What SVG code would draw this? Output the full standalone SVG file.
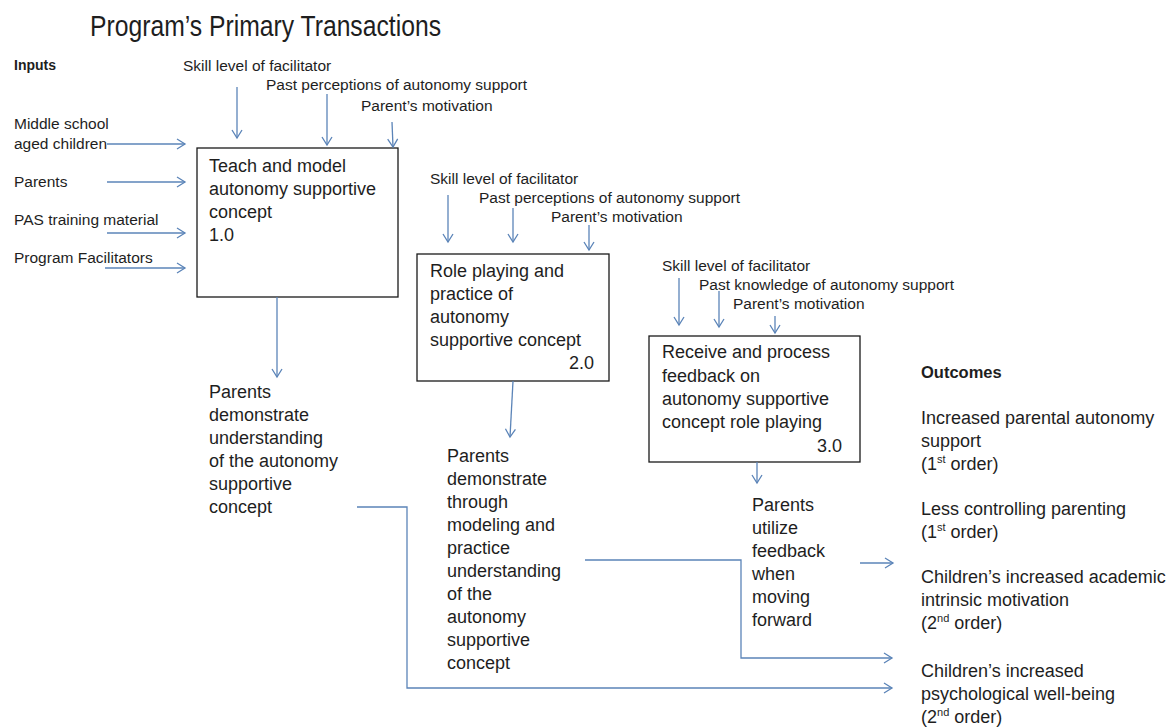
<svg xmlns="http://www.w3.org/2000/svg" width="1171" height="728" viewBox="0 0 1171 728">
<style>
.t{font-family:"Liberation Sans",Arial,sans-serif;fill:#1e1e1e}
.s{font-size:15.5px}
.b{font-size:18px}
.h{font-weight:bold;font-size:14px}
.ho{font-weight:bold;font-size:16.5px}
.box{fill:#fff;stroke:#1a1a1a;stroke-width:1.3}
.c{fill:none;stroke:#5b84b8;stroke-width:1.3}
.a{marker-end:url(#ah)}
</style>
<defs>
<marker id="ah" markerWidth="12" markerHeight="12" refX="9" refY="6" orient="auto" markerUnits="userSpaceOnUse">
<path d="M1,1 L9,6 L1,11" fill="none" stroke="#5b84b8" stroke-width="1.3"/>
</marker>
</defs>
<rect width="1171" height="728" fill="#fff"/>
<text id="title" class="t" x="90" y="36" font-size="30" textLength="351" lengthAdjust="spacingAndGlyphs">Program’s Primary Transactions</text>

<g id="inputs">
<text class="t h" x="14" y="70">Inputs</text>
<text class="t s" x="14" y="129">Middle school</text>
<text class="t s" x="14" y="149">aged children</text>
<text class="t s" x="14" y="187">Parents</text>
<text class="t s" x="14" y="225">PAS training material</text>
<text class="t s" x="14" y="263">Program Facilitators</text>
</g>

<g id="influences1">
<text class="t s" x="183" y="71">Skill level of facilitator</text>
<text class="t s" x="266" y="90">Past perceptions of autonomy support</text>
<text class="t s" x="361" y="111">Parent’s motivation</text>
</g>

<g id="node1">
<rect class="box" x="197" y="148" width="201" height="149"/>
<text class="t b" x="209" y="172">Teach and model</text>
<text class="t b" x="209" y="195">autonomy supportive</text>
<text class="t b" x="209" y="218">concept</text>
<text class="t b" x="209" y="241">1.0</text>
</g>

<g id="output1">
<text class="t b" x="209" y="398">Parents</text>
<text class="t b" x="209" y="421">demonstrate</text>
<text class="t b" x="209" y="444">understanding</text>
<text class="t b" x="209" y="467">of the autonomy</text>
<text class="t b" x="209" y="490">supportive</text>
<text class="t b" x="209" y="513">concept</text>
</g>

<g id="influences2">
<text class="t s" x="430" y="184">Skill level of facilitator</text>
<text class="t s" x="479" y="203">Past perceptions of autonomy support</text>
<text class="t s" x="551" y="222">Parent’s motivation</text>
</g>

<g id="node2">
<rect class="box" x="417" y="254" width="192" height="127"/>
<text class="t b" x="430" y="277">Role playing and</text>
<text class="t b" x="430" y="300">practice of</text>
<text class="t b" x="430" y="323">autonomy</text>
<text class="t b" x="430" y="346">supportive concept</text>
<text class="t b" x="594" y="369" text-anchor="end">2.0</text>
</g>

<g id="output2">
<text class="t b" x="447" y="462">Parents</text>
<text class="t b" x="447" y="485">demonstrate</text>
<text class="t b" x="447" y="508">through</text>
<text class="t b" x="447" y="531">modeling and</text>
<text class="t b" x="447" y="554">practice</text>
<text class="t b" x="447" y="577">understanding</text>
<text class="t b" x="447" y="600">of the</text>
<text class="t b" x="447" y="623">autonomy</text>
<text class="t b" x="447" y="646">supportive</text>
<text class="t b" x="447" y="669">concept</text>
</g>

<g id="influences3">
<text class="t s" x="662" y="271">Skill level of facilitator</text>
<text class="t s" x="699" y="290">Past knowledge of autonomy support</text>
<text class="t s" x="733" y="309">Parent’s motivation</text>
</g>

<g id="node3">
<rect class="box" x="649" y="336" width="211" height="126"/>
<text class="t b" x="662" y="358">Receive and process</text>
<text class="t b" x="662" y="382">feedback on</text>
<text class="t b" x="662" y="405">autonomy supportive</text>
<text class="t b" x="662" y="428">concept role playing</text>
<text class="t b" x="842" y="452" text-anchor="end">3.0</text>
</g>

<g id="output3">
<text class="t b" x="752" y="511">Parents</text>
<text class="t b" x="752" y="534">utilize</text>
<text class="t b" x="752" y="557">feedback</text>
<text class="t b" x="752" y="580">when</text>
<text class="t b" x="752" y="603">moving</text>
<text class="t b" x="752" y="626">forward</text>
</g>

<g id="outcomes">
<text class="t ho" x="921" y="378">Outcomes</text>
<text class="t b" x="921" y="424">Increased parental autonomy</text>
<text class="t b" x="921" y="447">support</text>
<text class="t b" x="921" y="470">(1<tspan dy="-7" font-size="11">st</tspan><tspan dy="7"> order)</tspan></text>
<text class="t b" x="921" y="515">Less controlling parenting</text>
<text class="t b" x="921" y="538">(1<tspan dy="-7" font-size="11">st</tspan><tspan dy="7"> order)</tspan></text>
<text class="t b" x="921" y="583">Children’s increased academic</text>
<text class="t b" x="921" y="606">intrinsic motivation</text>
<text class="t b" x="921" y="629">(2<tspan dy="-7" font-size="11">nd</tspan><tspan dy="7"> order)</tspan></text>
<text class="t b" x="921" y="677">Children’s increased</text>
<text class="t b" x="921" y="700">psychological well-being</text>
<text class="t b" x="921" y="723">(2<tspan dy="-7" font-size="11">nd</tspan><tspan dy="7"> order)</tspan></text>
</g>

<g id="connectors">
<line class="c a" x1="107" y1="144" x2="185" y2="144"/>
<line class="c a" x1="107" y1="182" x2="185" y2="182"/>
<line class="c a" x1="107" y1="233" x2="185" y2="233"/>
<line class="c a" x1="105" y1="268" x2="185" y2="268"/>
<line class="c a" x1="237" y1="87" x2="237" y2="138"/>
<line class="c a" x1="327" y1="94" x2="327" y2="145"/>
<line class="c a" x1="392" y1="122" x2="393" y2="147"/>
<line class="c a" x1="277" y1="297" x2="277" y2="377"/>
<line class="c a" x1="448" y1="195" x2="448" y2="242"/>
<line class="c a" x1="513" y1="208" x2="513" y2="242"/>
<line class="c a" x1="589" y1="225" x2="589" y2="250"/>
<line class="c a" x1="513" y1="381" x2="510" y2="437"/>
<line class="c a" x1="679" y1="278" x2="679" y2="325"/>
<line class="c a" x1="719" y1="291" x2="719" y2="327"/>
<line class="c a" x1="775" y1="316" x2="775" y2="333"/>
<line class="c a" x1="757" y1="462" x2="757" y2="483"/>
<polyline class="c a" points="357,507 407,507 407,688 892,688"/>
<polyline class="c a" points="585,560 741,560 741,658 892,658"/>
<line class="c a" x1="860" y1="563" x2="893" y2="563"/>
</g>
</svg>
